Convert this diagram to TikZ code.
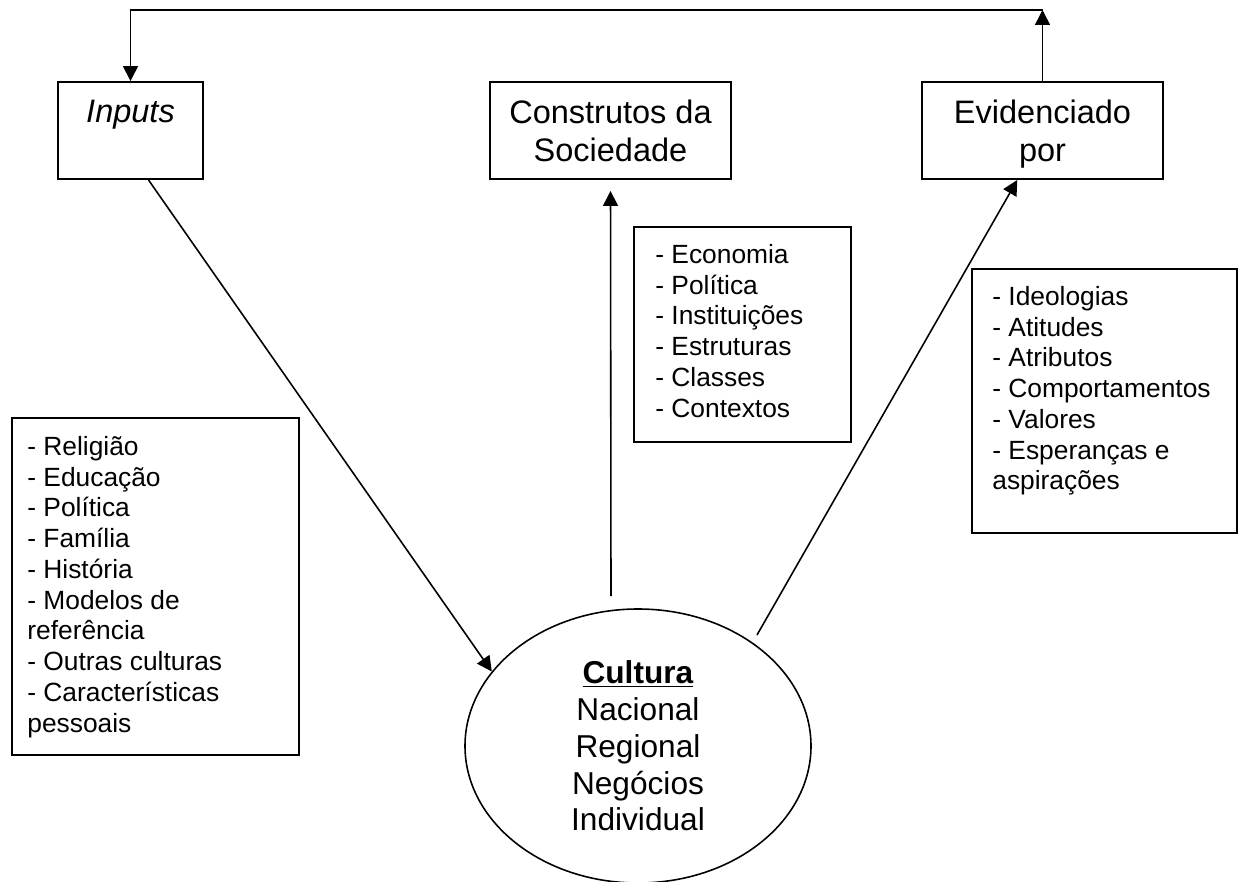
\documentclass[tikz,border=0pt]{standalone}
\usepackage{fontspec}
\setmainfont{Liberation Sans}
\usetikzlibrary{arrows.meta,shapes.geometric}

\begin{document}
\begin{tikzpicture}[
    head/.style={rectangle, draw=black, line width=1.1pt, minimum width=4.82cm, minimum height=1.94cm, align=center, inner sep=0pt, font=\fontsize{18.5}{21.6}\selectfont},
    listbox/.style={rectangle, draw=black, line width=1.1pt, inner sep=0pt},
    listtext/.style={anchor=north west, align=left, inner sep=0pt, font=\fontsize{15}{17.5}\selectfont},
    link/.style={-{Triangle[length=0.3cm, width=0.3cm]}, line width=0.9pt, draw=black},
    core/.style={ellipse, draw=black, line width=0.9pt, minimum width=6.92cm, minimum height=5.48cm, inner sep=0pt, align=center, font=\fontsize{18}{20.9}\selectfont}
]
\useasboundingbox (0,0) rectangle (24.84,-17.64);

\node[head, minimum width=2.9cm] (inp) at (2.61,-2.61) {\textit{Inputs}\\\mbox{}};
\node[head] (cons) at (12.21,-2.61) {Construtos da\\Sociedade};
\node[head] (evid) at (20.85,-2.61) {Evidenciado\\\raisebox{0pt}[\height][0pt]{por}};

\node[core] (cult) at (12.76,-14.92) {\underline{\textbf{Cultura}}\\Nacional\\Regional\\Negócios\\Individual};

\node[listbox, minimum width=5.74cm, minimum height=6.74cm] (inbox) at (3.11,-11.73) {};
\node[listbox, minimum width=4.34cm, minimum height=4.3cm] (consbox) at (14.85,-6.69) {};
\node[listbox, minimum width=5.3cm, minimum height=5.28cm] (evidbox) at (22.09,-8.02) {};

\node[listtext] (inlist) at (0.54,-8.72) {- Religião\\- Educação\\- Política\\- Família\\- História\\- Modelos de\\referência\\- Outras culturas\\- Características\\pessoais};
\node[listtext] (conslist) at (13.1,-4.88) {- Economia\\- Política\\- Instituições\\- Estruturas\\- Classes\\- Contextos};
\node[listtext] (evidlist) at (19.84,-5.72) {- Ideologias\\- Atitudes\\- Atributos\\- Comportamentos\\- Valores\\- Esperanças e\\aspirações};

\coordinate (top) at (20.85,-0.2);
\coordinate (base) at (12.22,-11.92);
\coordinate (rise) at (15.14,-12.7);

\draw[link] (evid.north) -- (top);
\draw[link] (top) -| (inp.north);
\draw[link] (inp.290) -- (cult.153);
\draw[link, shorten >=0.22cm] (base) -- (cons.south);
\draw[link] (rise) -- (evid.243);

\end{tikzpicture}
\end{document}
